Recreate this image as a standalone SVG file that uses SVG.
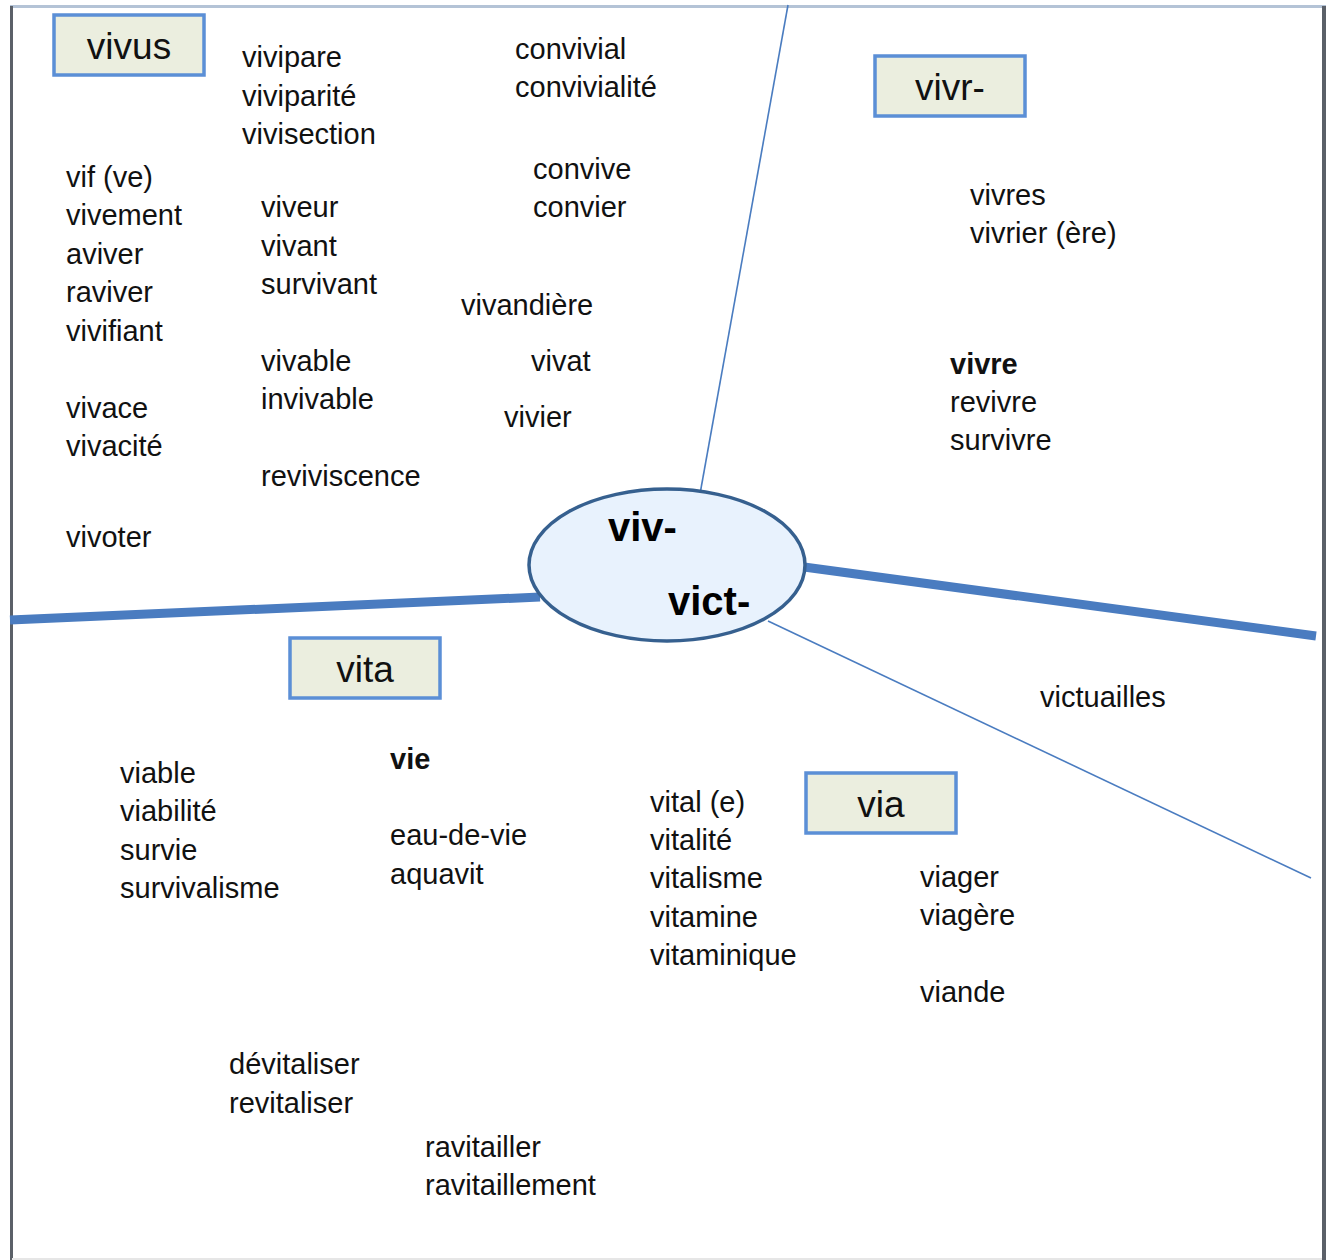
<svg xmlns="http://www.w3.org/2000/svg" width="1332" height="1260" viewBox="0 0 1332 1260">
<style>
.w{font-family:"Liberation Sans",Arial,sans-serif;font-size:29px;fill:#111}
.b{font-weight:bold}
.big{font-family:"Liberation Sans",Arial,sans-serif;font-size:40px;font-weight:bold;fill:#000}
.box{fill:#ebeedf;stroke:#5b8fd6;stroke-width:3.5}
.bt{font-family:"Liberation Sans",Arial,sans-serif;font-size:37px;fill:#111;text-anchor:middle}
.thin{stroke:#4a7cc0;stroke-width:1.6;fill:none}
.thick{stroke:#4a7cc0;stroke-width:9;fill:none}
</style>
<rect width="1332" height="1260" fill="#fff"/>
<g id="frame">
<line x1="10" y1="6.5" x2="1326" y2="6.5" stroke="#b4c3d6" stroke-width="3"/>
<line x1="11.5" y1="6" x2="11.5" y2="1260" stroke="#5b6068" stroke-width="3"/>
<line x1="1324" y1="6" x2="1324" y2="1260" stroke="#5b6068" stroke-width="4"/>
<line x1="12" y1="1259" x2="1322" y2="1259" stroke="#e6e6e6" stroke-width="2"/>
</g>
<g id="connectors">
<line class="thin" x1="700" y1="494" x2="788" y2="5"/>
<line class="thick" x1="10" y1="620" x2="540" y2="597"/>
<line class="thick" x1="804" y1="567" x2="1316" y2="636"/>
<line class="thin" x1="768" y1="621" x2="1311" y2="878"/>
</g>
<g id="center">
<ellipse cx="667" cy="565" rx="138" ry="76" fill="#e8f2fd" stroke="#36608f" stroke-width="3.5"/>
<text class="big" x="608" y="541">viv-</text>
<text class="big" x="668" y="615">vict-</text>
</g>
<g id="vivus"><rect class="box" x="54" y="15" width="150" height="60"/><text class="bt" x="129" y="59">vivus</text></g>
<g id="vivr"><rect class="box" x="875" y="56" width="150" height="60"/><text class="bt" x="950" y="100">vivr-</text></g>
<g id="vita"><rect class="box" x="290" y="638" width="150" height="60"/><text class="bt" x="365" y="682">vita</text></g>
<g id="via"><rect class="box" x="806" y="773" width="150" height="60"/><text class="bt" x="881" y="817">via</text></g>
<g id="words">
<text class="w" x="242" y="67">vivipare</text>
<text class="w" x="242" y="106">viviparité</text>
<text class="w" x="242" y="144">vivisection</text>
<text class="w" x="515" y="59">convivial</text>
<text class="w" x="515" y="97">convivialité</text>
<text class="w" x="533" y="179">convive</text>
<text class="w" x="533" y="217">convier</text>
<text class="w" x="66" y="187">vif (ve)</text>
<text class="w" x="66" y="225">vivement</text>
<text class="w" x="66" y="264">aviver</text>
<text class="w" x="66" y="302">raviver</text>
<text class="w" x="66" y="341">vivifiant</text>
<text class="w" x="66" y="418">vivace</text>
<text class="w" x="66" y="456">vivacité</text>
<text class="w" x="66" y="547">vivoter</text>
<text class="w" x="261" y="217">viveur</text>
<text class="w" x="261" y="256">vivant</text>
<text class="w" x="261" y="294">survivant</text>
<text class="w" x="261" y="371">vivable</text>
<text class="w" x="261" y="409">invivable</text>
<text class="w" x="261" y="486">reviviscence</text>
<text class="w" x="461" y="315">vivandière</text>
<text class="w" x="531" y="371">vivat</text>
<text class="w" x="504" y="427">vivier</text>
<text class="w" x="970" y="205">vivres</text>
<text class="w" x="970" y="243">vivrier (ère)</text>
<text class="w b" x="950" y="374">vivre</text>
<text class="w" x="950" y="412">revivre</text>
<text class="w" x="950" y="450">survivre</text>
<text class="w" x="1040" y="707">victuailles</text>
<text class="w" x="120" y="783">viable</text>
<text class="w" x="120" y="821">viabilité</text>
<text class="w" x="120" y="860">survie</text>
<text class="w" x="120" y="898">survivalisme</text>
<text class="w b" x="390" y="769">vie</text>
<text class="w" x="390" y="845">eau-de-vie</text>
<text class="w" x="390" y="884">aquavit</text>
<text class="w" x="650" y="812">vital (e)</text>
<text class="w" x="650" y="850">vitalité</text>
<text class="w" x="650" y="888">vitalisme</text>
<text class="w" x="650" y="927">vitamine</text>
<text class="w" x="650" y="965">vitaminique</text>
<text class="w" x="920" y="887">viager</text>
<text class="w" x="920" y="925">viagère</text>
<text class="w" x="920" y="1002">viande</text>
<text class="w" x="229" y="1074">dévitaliser</text>
<text class="w" x="229" y="1113">revitaliser</text>
<text class="w" x="425" y="1157">ravitailler</text>
<text class="w" x="425" y="1195">ravitaillement</text>
</g>
</svg>
